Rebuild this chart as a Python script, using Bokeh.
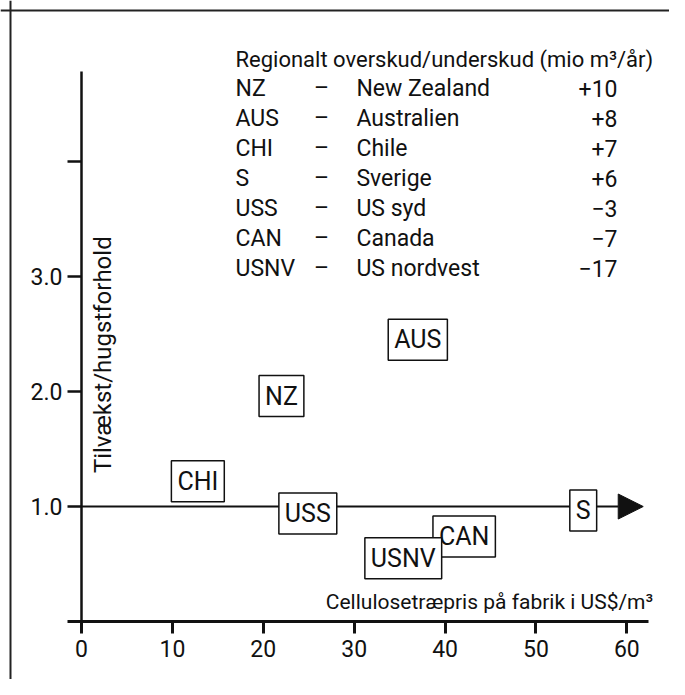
from bokeh.plotting import figure
from bokeh.models import (Range1d, LinearAxis, FixedTicker, Span, Arrow, NormalHead,
                          ColumnDataSource)
from bokeh.core.properties import value
from bokeh.embed import file_html
from bokeh.resources import INLINE

# ---- data ----
codes = ["NZ", "AUS", "CHI", "S", "USS", "CAN", "USNV"]
names = ["New Zealand", "Australien", "Chile", "Sverige", "US syd", "Canada", "US nordvest"]
surplus = ["+10", "+8", "+7", "+6", "\u22123", "\u22127", "\u221217"]
price = [22.0, 37.0, 12.8, 55.2, 24.9, 42.1, 35.4]          # US$/m3
ratio = [1.96, 2.45, 1.22, 0.965, 0.94, 0.74, 0.55]          # tilvaekst/hugst
x_ticks = [0, 10, 20, 30, 40, 50, 60]
x_tick_labels = {0: "0", 10: "10", 20: "20", 30: "30", 40: "40", 50: "50", 60: "60"}
y_ticks = [1, 2, 3, 4]
y_tick_labels = {1: "1.0", 2: "2.0", 3: "3.0", 4: ""}
legend_title = "Regionalt overskud/underskud (mio m\u00b3/\u00e5r)"
x_title = "Cellulosetr\u00e6pris p\u00e5 fabrik i US$/m\u00b3"
y_title = "Tilv\u00e6kst/hugstforhold"

FONT = "Roboto"
F = value(FONT)
INK = "#111111"

p = figure(width=669, height=679, x_range=Range1d(-8.91, 64.69), y_range=Range1d(-0.504, 5.4),
           output_backend="svg", toolbar_location=None, min_border=0,
           x_axis_location=None, y_axis_location=None)
p.outline_line_color = None
p.xgrid.visible = False
p.ygrid.visible = False
p.background_fill_color = "white"
p.border_fill_color = "white"

# frame lines (top + left)
p.add_layout(Span(location=-7.81, dimension="height", line_color="#222222", line_width=2))
p.add_layout(Span(location=5.313, dimension="width", line_color="#222222", line_width=2))

# axes
xa = LinearAxis(fixed_location=0, bounds=(-1.5, 62.4))
xa.ticker = FixedTicker(ticks=x_ticks)
xa.major_label_overrides = x_tick_labels
xa.axis_line_width = 3
xa.axis_line_color = INK
xa.major_tick_line_width = 3
xa.major_tick_line_color = INK
xa.major_tick_out = 12
xa.major_tick_in = 0
xa.minor_tick_out = 0
xa.minor_tick_in = 0
xa.major_label_text_font = FONT
xa.major_label_text_font_size = "23px"
xa.major_label_text_color = INK
xa.major_label_standoff = 6
p.add_layout(xa, "below")

ya = LinearAxis(fixed_location=0, bounds=(0, 4.78))
ya.ticker = FixedTicker(ticks=y_ticks)
ya.major_label_overrides = y_tick_labels
ya.axis_line_width = 2.5
ya.axis_line_color = INK
ya.major_tick_line_width = 2.5
ya.major_tick_line_color = INK
ya.major_tick_out = 14
ya.major_tick_in = 0
ya.minor_tick_out = 0
ya.minor_tick_in = 0
ya.major_label_orientation = "horizontal"
ya.major_label_text_font = FONT
ya.major_label_text_font_size = "23px"
ya.major_label_text_color = INK
ya.major_label_standoff = 5
p.add_layout(ya, "left")

# reference line y = 1 with arrow
arr = Arrow(x_start=0, y_start=1.0, x_end=61.8, y_end=1.0, line_width=2, line_color=INK,
            end=NormalHead(size=25, fill_color=INK, line_color=INK), level="underlay")
p.add_layout(arr)

# boxed labels
src = ColumnDataSource(dict(x=price, y=ratio, t=codes))
p.text("x", "y", "t", source=src, text_font=F, text_font_size="25px", text_color=INK,
       text_align="center", text_baseline="middle",
       border_line_color=INK, border_line_width=1.5,
       background_fill_color="white", padding=6)

# axis titles
p.text(x=[2.42], y=[2.32], text=[y_title], angle=1.5708, text_font=F, text_font_size="24px",
       text_color=INK, text_align="center", text_baseline="middle")
p.text(x=[62.9], y=[0.17], text=[x_title], text_font=F, text_font_size="21px",
       text_color=INK, text_align="right", text_baseline="middle")

# legend table
row0 = 4.635
step = 0.2609
rows_y = [row0 - i * step for i in range(len(codes))]
p.text(x=[16.94], y=[4.883], text=[legend_title], text_font=F, text_font_size="22px",
       text_color=INK, text_align="left", text_baseline="middle")
p.text(x=[16.94] * len(codes), y=rows_y, text=codes, text_font=F, text_font_size="23px",
       text_color=INK, text_align="left", text_baseline="middle")
p.text(x=[26.4] * len(codes), y=rows_y, text=["\u2013"] * len(codes), text_font=F,
       text_font_size="23px", text_color=INK, text_align="center", text_baseline="middle")
p.text(x=[30.25] * len(codes), y=rows_y, text=names, text_font=F, text_font_size="23px",
       text_color=INK, text_align="left", text_baseline="middle")
p.text(x=[58.97] * len(codes), y=rows_y, text=surplus, text_font=F, text_font_size="23px",
       text_color=INK, text_align="right", text_baseline="middle")

open("out.html", "w").write(file_html(p, INLINE))
